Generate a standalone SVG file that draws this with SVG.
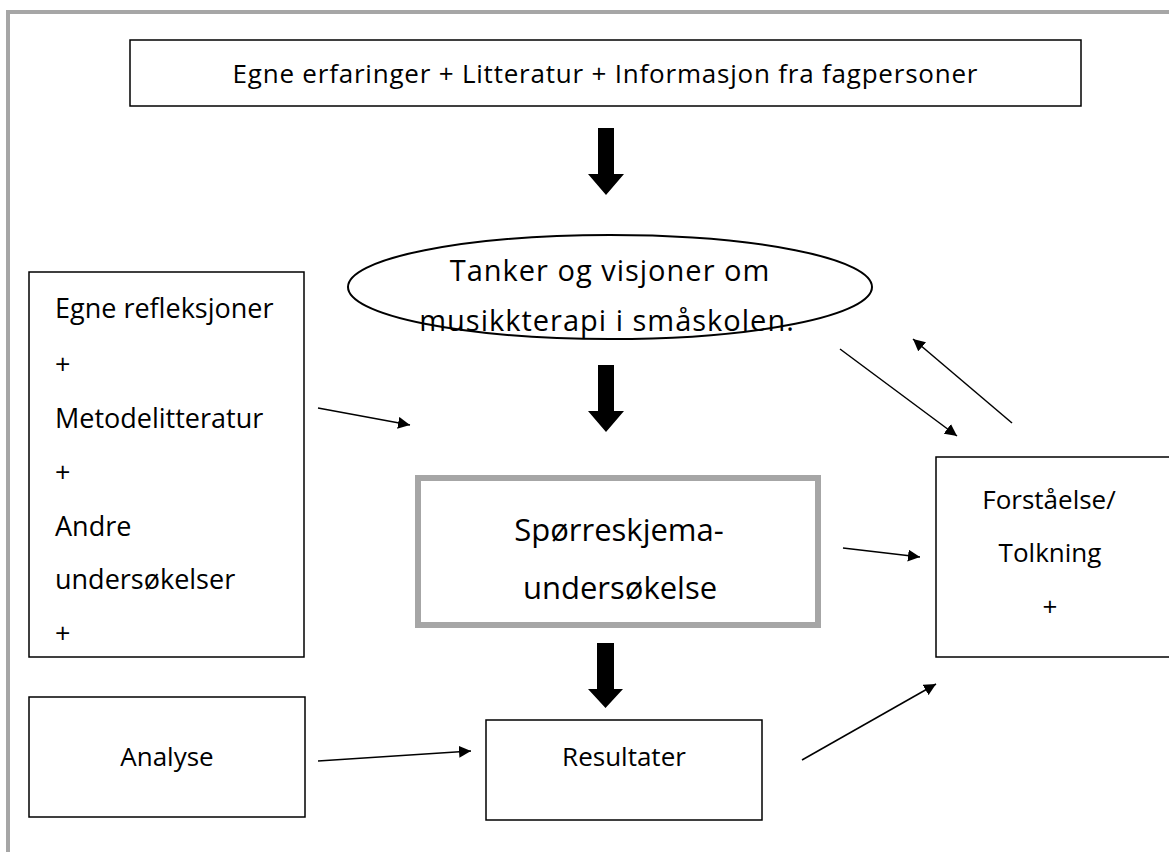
<svg xmlns="http://www.w3.org/2000/svg" width="1169" height="852" viewBox="0 0 1169 852">
<defs>
<style>
.box{fill:#fff;stroke:#000;stroke-width:1.5}
.t{font-family:"Open Sans","Liberation Sans",sans-serif;font-size:27px;fill:#000}
.c{text-anchor:middle}
.ln{stroke:#000;stroke-width:1.5;fill:none;marker-end:url(#ah)}
.blk{fill:#000}
</style>
<marker id="ah" viewBox="0 0 10 10" refX="10" refY="5" markerWidth="12" markerHeight="12" markerUnits="userSpaceOnUse" orient="auto">
<path d="M0,0 L10,5 L0,10 z" fill="#000"/>
</marker>
</defs>
<rect width="1169" height="852" fill="#fff"/>
<rect x="8" y="12" width="1200" height="900" fill="none" stroke="#a6a6a6" stroke-width="4"/>

<g id="top">
<rect class="box" x="130" y="40" width="951" height="66"/>
<text class="t c" x="605" y="83" style="font-size:26px" textLength="745" lengthAdjust="spacing">Egne erfaringer + Litteratur + Informasjon fra fagpersoner</text>
</g>
<g id="tanker">
<ellipse cx="610" cy="287" rx="262" ry="52" fill="#fff" stroke="#000" stroke-width="2"/>
<text class="t c" x="610" y="281" style="font-size:29px;letter-spacing:1px">Tanker og visjoner om</text>
<text class="t c" x="607" y="331" style="font-size:29px;letter-spacing:1px">musikkterapi i småskolen.</text>
</g>
<g id="left">
<rect class="box" x="29" y="272" width="275" height="385"/>
<text class="t" x="55" y="318">Egne refleksjoner</text>
<text class="t" x="55" y="374">+</text>
<text class="t" x="55" y="428">Metodelitteratur</text>
<text class="t" x="55" y="482">+</text>
<text class="t" x="55" y="536">Andre</text>
<text class="t" x="55" y="589">undersøkelser</text>
<text class="t" x="55" y="643">+</text>
</g>
<g id="sporre">
<rect x="418" y="478" width="400" height="147" fill="#fff" stroke="#a6a6a6" stroke-width="6"/>
<text class="t c" x="619" y="541" style="font-size:31px">Spørreskjema-</text>
<text class="t c" x="620" y="599" style="font-size:31px">undersøkelse</text>
</g>
<g id="forst">
<rect class="box" x="936" y="457" width="260" height="200"/>
<text class="t c" x="1049" y="509" style="font-size:26px">Forståelse/</text>
<text class="t c" x="1050" y="562" style="font-size:26px">Tolkning</text>
<text class="t c" x="1050" y="616" style="font-size:26px">+</text>
</g>
<g id="analyse">
<rect class="box" x="29" y="697" width="276" height="120"/>
<text class="t c" x="167" y="766" style="font-size:26px">Analyse</text>
</g>
<g id="resultater">
<rect class="box" x="486" y="720" width="276" height="100"/>
<text class="t c" x="624" y="766" style="font-size:26px">Resultater</text>
</g>
<g id="connectors">
<path class="blk" d="M598,128 H614 V174 H624 L606,195 L588,174 H598 Z"/>
<path class="blk" d="M598,365 H614 V411 H624 L606,432 L588,411 H598 Z"/>
<path class="blk" d="M597,643 H614 V689 H623 L605.5,708 L588,689 H597 Z"/>
<line class="ln" x1="318" y1="408" x2="410" y2="425"/>
<line class="ln" x1="843" y1="548" x2="920" y2="557"/>
<line class="ln" x1="840" y1="349" x2="957" y2="436"/>
<line class="ln" x1="1012" y1="423" x2="913" y2="339"/>
<line class="ln" x1="318" y1="761" x2="471" y2="751"/>
<line class="ln" x1="802" y1="760" x2="936" y2="684"/>
</g>
</svg>
